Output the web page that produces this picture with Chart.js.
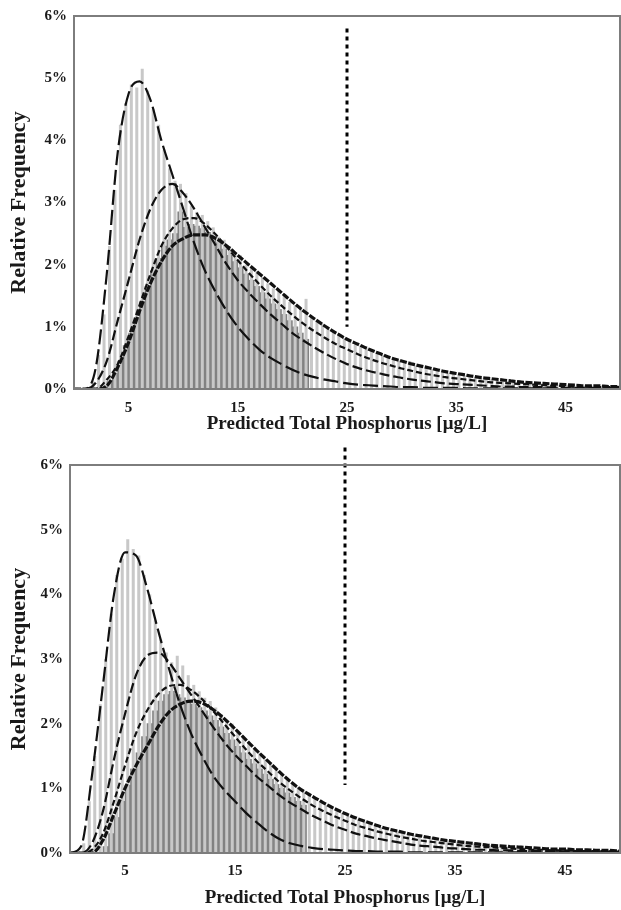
<!DOCTYPE html>
<html>
<head>
<meta charset="utf-8">
<script src="https://cdn.jsdelivr.net/npm/chart.js@4.4.0/dist/chart.umd.min.js"></script>
<style>
  html, body { margin: 0; padding: 0; background: #fff; }
  #wrap { position: relative; width: 621px; height: 910px; }
  canvas { position: absolute; left: 0; }
  #topChart { top: 0; }
  #bottomChart { top: 436px; }
</style>
</head>
<body>
<div id="wrap">
  <canvas id="topChart" width="621" height="436"></canvas>
  <canvas id="bottomChart" width="621" height="474"></canvas>
</div>
<script>
'use strict';

// histogram bins, 0.5 ug/L wide (centres)
const binCenters = [
    0.25, 0.75, 1.25, 1.75, 2.25, 2.75, 3.25, 3.75, 4.25, 4.75,
    5.25, 5.75, 6.25, 6.75, 7.25, 7.75, 8.25, 8.75, 9.25, 9.75,
    10.25, 10.75, 11.25, 11.75, 12.25, 12.75, 13.25, 13.75, 14.25, 14.75,
    15.25, 15.75, 16.25, 16.75, 17.25, 17.75, 18.25, 18.75, 19.25, 19.75,
    20.25, 20.75, 21.25, 21.75, 22.25, 22.75, 23.25, 23.75, 24.25, 24.75,
    25.25, 25.75, 26.25, 26.75, 27.25, 27.75, 28.25, 28.75, 29.25, 29.75,
    30.25, 30.75, 31.25, 31.75, 32.25, 32.75, 33.25, 33.75, 34.25, 34.75,
    35.25, 35.75, 36.25, 36.75, 37.25, 37.75, 38.25, 38.75, 39.25, 39.75,
    40.25, 40.75, 41.25, 41.75, 42.25, 42.75, 43.25, 43.75, 44.25, 44.75,
    45.25, 45.75, 46.25, 46.75, 47.25, 47.75, 48.25, 48.75, 49.25, 49.75
];
// x of the fitted curves
const curveX = [
    0, 1, 2, 3, 4, 5, 6, 7, 8, 9,
    10, 11, 12, 13, 14, 15, 16, 17, 18, 19,
    20, 21, 22, 23, 24, 25, 26, 27, 28, 29,
    30, 31, 32, 33, 34, 35, 36, 37, 38, 39,
    40, 41, 42, 43, 44, 45, 46, 47, 48, 49,
    50
];
const xTicks = [5, 15, 25, 35, 45];
const xLimit = 25;   // dotted reference line
const xTitle = 'Predicted Total Phosphorus [\u03bcg/L]';
const yTitle = 'Relative Frequency';

// ---- upper panel (values in %) ----
const topBarsLight = [
    0.02, 0.02, 0.03, 0.12, 0.55, 1.2, 2.3, 3.2, 4.25, 4.6,
    4.9, 4.85, 5.15, 4.8, 4.5, 4.25, 3.85, 3.55, 3.35, 3.3,
    3.15, 2.95, 2.85, 2.8, 2.7, 2.6, 2.45, 2.4, 2.3, 2.2,
    2.15, 2.0, 1.95, 1.9, 1.8, 1.7, 1.62, 1.6, 1.5, 1.4,
    1.35, 1.3, 1.45, 1.15, 1.1, 1.05, 0.97, 0.92, 0.88, 0.82,
    0.78, 0.74, 0.7, 0.66, 0.62, 0.58, 0.55, 0.52, 0.48, 0.46,
    0.43, 0.45, 0.38, 0.36, 0.34, 0.32, 0.3, 0.28, 0.26, 0.25,
    0.23, 0.22, 0.2, 0.19, 0.18, 0.17, 0.16, 0.15, 0.14, 0.13,
    0.12, 0.14, 0.11, 0.1, 0.1, 0.09, 0.08, 0.08, 0.07, 0.07,
    0.06, 0.06, 0.06, 0.05, 0.05, 0.05, 0.04, 0.04, 0.04, 0.04
];
const topBarsDark = [
    0, 0, 0, 0, 0, 0, 0.12, 0.25, 0.45, 0.7,
    0.9, 1.15, 1.4, 1.65, 1.9, 2.1, 2.3, 2.4, 2.5, 2.85,
    2.6, 2.65, 2.62, 2.58, 2.52, 2.45, 2.35, 2.25, 2.15, 2.05,
    1.95, 1.85, 1.75, 1.65, 1.55, 1.45, 1.37, 1.28, 1.2, 1.1,
    1.0, 0.9, 0.8, 0, 0, 0, 0, 0, 0, 0,
    0, 0, 0, 0, 0, 0, 0, 0, 0, 0,
    0, 0, 0, 0, 0, 0, 0, 0, 0, 0,
    0, 0, 0, 0, 0, 0, 0, 0, 0, 0,
    0, 0, 0, 0, 0, 0, 0, 0, 0, 0,
    0, 0, 0, 0, 0, 0, 0, 0, 0, 0
];
const topCurveA = [
    0, 0, 0.35, 1.85, 3.8, 4.75, 4.95, 4.65, 4.0, 3.45,
    2.9, 2.35, 1.9, 1.55, 1.25, 1.0, 0.8, 0.63, 0.5, 0.4,
    0.31, 0.24, 0.19, 0.15, 0.12, 0.09, 0.07, 0.06, 0.05, 0.04,
    0.03, 0.03, 0.02, 0.02, 0.02, 0.02, 0.01, 0.01, 0.01, 0.01,
    0.01, 0.01, 0.01, 0.01, 0.01, 0.01, 0.01, 0.01, 0.01, 0.01,
    0.01
];
const topCurveB = [
    0, 0, 0.1, 0.45, 1.1, 1.75, 2.4, 2.9, 3.2, 3.3,
    3.15, 2.9, 2.6, 2.3, 2.0, 1.75, 1.55, 1.37, 1.2, 1.05,
    0.9, 0.78, 0.67, 0.57, 0.48, 0.4, 0.34, 0.29, 0.25, 0.21,
    0.18, 0.15, 0.13, 0.11, 0.09, 0.08, 0.07, 0.06, 0.05, 0.04,
    0.04, 0.03, 0.03, 0.03, 0.02, 0.02, 0.02, 0.02, 0.02, 0.02,
    0.02
];
const topCurveC = [
    0, 0, 0, 0.15, 0.4, 0.85, 1.35, 1.85, 2.3, 2.58,
    2.73, 2.75, 2.65, 2.48, 2.28, 2.07, 1.87, 1.68, 1.5, 1.34,
    1.19, 1.05, 0.93, 0.82, 0.72, 0.64, 0.56, 0.49, 0.43, 0.38,
    0.33, 0.29, 0.25, 0.22, 0.19, 0.17, 0.15, 0.13, 0.11, 0.1,
    0.09, 0.08, 0.07, 0.06, 0.05, 0.05, 0.04, 0.04, 0.03, 0.03,
    0.03
];
const topCurveD = [
    0, 0, 0, 0.05, 0.35, 0.75, 1.25, 1.7, 2.05, 2.3,
    2.42, 2.48, 2.48, 2.42, 2.3, 2.15, 2.0, 1.85, 1.7, 1.55,
    1.4, 1.26, 1.13, 1.01, 0.9, 0.8, 0.72, 0.64, 0.57, 0.5,
    0.45, 0.4, 0.36, 0.32, 0.28, 0.25, 0.22, 0.19, 0.17, 0.15,
    0.13, 0.11, 0.1, 0.09, 0.08, 0.07, 0.06, 0.05, 0.05, 0.04,
    0.04
];
const topLimitSpan = [5.8, 1.0];

// ---- lower panel (values in %) ----
const botBarsLight = [
    0.02, 0.03, 0.15, 0.8, 1.5, 2.3, 3.0, 3.7, 4.3, 4.55,
    4.85, 4.7, 4.6, 4.3, 4.0, 3.6, 3.3, 3.1, 2.95, 3.05,
    2.9, 2.75, 2.6, 2.5, 2.4, 2.35, 2.25, 2.15, 2.05, 2.0,
    1.9, 1.8, 1.72, 1.62, 1.55, 1.45, 1.4, 1.3, 1.22, 1.15,
    1.08, 1.02, 0.95, 0.9, 0.84, 0.8, 0.74, 0.7, 0.66, 0.62,
    0.58, 0.55, 0.52, 0.49, 0.46, 0.43, 0.4, 0.38, 0.36, 0.34,
    0.32, 0.3, 0.28, 0.27, 0.25, 0.24, 0.22, 0.21, 0.2, 0.19,
    0.18, 0.17, 0.16, 0.15, 0.14, 0.13, 0.12, 0.12, 0.11, 0.1,
    0.1, 0.09, 0.09, 0.08, 0.08, 0.07, 0.07, 0.06, 0.06, 0.06,
    0.05, 0.05, 0.05, 0.04, 0.04, 0.04, 0.04, 0.03, 0.03, 0.03
];
const botBarsDark = [
    0, 0, 0, 0, 0, 0, 0.1, 0.3, 0.55, 0.8,
    1.05, 1.3, 1.55, 1.8, 2.0, 2.2, 2.35, 2.45, 2.5, 2.45,
    2.4, 2.35, 2.3, 2.25, 2.2, 2.12, 2.05, 1.95, 1.85, 1.75,
    1.65, 1.55, 1.45, 1.38, 1.3, 1.22, 1.14, 1.06, 1.0, 0.93,
    0.86, 0.8, 0.74, 0, 0, 0, 0, 0, 0, 0,
    0, 0, 0, 0, 0, 0, 0, 0, 0, 0,
    0, 0, 0, 0, 0, 0, 0, 0, 0, 0,
    0, 0, 0, 0, 0, 0, 0, 0, 0, 0,
    0, 0, 0, 0, 0, 0, 0, 0, 0, 0,
    0, 0, 0, 0, 0, 0, 0, 0, 0, 0
];
const botCurveA = [
    0, 0.1, 1.2, 2.6, 4.0, 4.65, 4.6, 4.1, 3.45, 2.85,
    2.3, 1.85, 1.5, 1.2, 0.98, 0.8, 0.62, 0.47, 0.33, 0.22,
    0.15, 0.11, 0.08, 0.06, 0.05, 0.04, 0.03, 0.03, 0.02, 0.02,
    0.02, 0.01, 0.01, 0.01, 0.01, 0.01, 0.01, 0.01, 0.01, 0.01,
    0.01, 0.01, 0.01, 0.01, 0.01, 0.01, 0.01, 0.01, 0.01, 0.01,
    0.01
];
const botCurveB = [
    0, 0, 0.15, 0.65, 1.45, 2.15, 2.75, 3.05, 3.1, 2.95,
    2.7, 2.45, 2.2, 1.95, 1.72, 1.52, 1.35, 1.18, 1.04, 0.9,
    0.78, 0.68, 0.58, 0.5, 0.42, 0.36, 0.3, 0.26, 0.22, 0.19,
    0.16, 0.13, 0.11, 0.1, 0.08, 0.07, 0.06, 0.05, 0.05, 0.04,
    0.04, 0.03, 0.03, 0.03, 0.03, 0.02, 0.02, 0.02, 0.02, 0.02,
    0.02
];
const botCurveC = [
    0, 0, 0.05, 0.3, 0.8, 1.35, 1.85, 2.2, 2.45, 2.58,
    2.6, 2.52, 2.38, 2.2, 2.0, 1.8, 1.6, 1.42, 1.26, 1.1,
    0.97, 0.85, 0.74, 0.65, 0.57, 0.5, 0.43, 0.38, 0.33, 0.29,
    0.25, 0.22, 0.19, 0.17, 0.15, 0.13, 0.11, 0.1, 0.09, 0.08,
    0.07, 0.06, 0.05, 0.05, 0.04, 0.04, 0.03, 0.03, 0.03, 0.03,
    0.03
];
const botCurveD = [
    0, 0, 0, 0.2, 0.6, 1.0, 1.35, 1.65, 1.95, 2.18,
    2.3, 2.35, 2.32, 2.22, 2.08, 1.92, 1.75, 1.58, 1.42, 1.26,
    1.11, 0.98, 0.88, 0.78, 0.69, 0.61, 0.54, 0.48, 0.42, 0.37,
    0.33, 0.29, 0.26, 0.23, 0.2, 0.18, 0.16, 0.14, 0.12, 0.11,
    0.1, 0.09, 0.08, 0.07, 0.06, 0.06, 0.05, 0.05, 0.04, 0.04,
    0.03
];
const botLimitSpan = [6.27, 1.05];

(function () {
    Chart.defaults.font.family = '"Liberation Serif", "Times New Roman", serif';
    Chart.defaults.font.weight = 'bold';
    Chart.defaults.color = '#1a1a1a';

    // grey frame round the plot area
    const plotBox = {
        id: 'plotBox',
        afterDatasetsDraw(chart) {
            const a = chart.chartArea;
            const ctx = chart.ctx;
            ctx.save();
            ctx.strokeStyle = '#7d7d7d';
            ctx.lineWidth = 2;
            ctx.strokeRect(a.left, a.top, a.right - a.left, a.bottom - a.top);
            ctx.restore();
        }
    };

    function pts(xs, ys) {
        return xs.map((x, i) => ({x: x, y: ys[i]}));
    }

    function curve(ys, dash, width) {
        return {
            type: 'line',
            order: 0,
            data: pts(curveX, ys),
            borderColor: '#111',
            borderWidth: width,
            borderDash: dash,
            pointRadius: 0,
            fill: false,
            cubicInterpolationMode: 'monotone'
        };
    }

    function makePanel(id, d, lay) {
        const config = {
            type: 'bar',
            data: {
                datasets: [
                    curve(d.a, [15, 5], 2.2),
                    curve(d.b, [10, 4], 2.2),
                    curve(d.c, [6, 3], 2.2),
                    curve(d.d, [7, 1.5], 3.2),
                    {
                        type: 'line',
                        order: 0,
                        clip: false,
                        data: [{x: xLimit, y: d.limit[0]}, {x: xLimit, y: d.limit[1]}],
                        borderColor: '#000',
                        borderWidth: 3,
                        borderDash: [4, 4],
                        pointRadius: 0
                    },
                    {
                        type: 'bar',
                        order: 1,
                        data: pts(binCenters, d.light),
                        backgroundColor: '#c8c8c8',
                        barPercentage: 0.55,
                        categoryPercentage: 1,
                        grouped: false
                    },
                    {
                        type: 'bar',
                        order: 2,
                        data: pts(binCenters, d.dark),
                        backgroundColor: '#828282',
                        barPercentage: 1,
                        categoryPercentage: 1,
                        grouped: false
                    }
                ]
            },
            options: {
                responsive: false,
                animation: false,
                devicePixelRatio: 1,
                layout: {padding: {top: lay.top, right: 1, left: 0, bottom: 0}},
                plugins: {legend: {display: false}, tooltip: {enabled: false}},
                scales: {
                    x: {
                        type: 'linear',
                        min: 0,
                        max: 50,
                        offset: false,
                        grid: {display: false, drawTicks: false},
                        border: {display: false},
                        afterBuildTicks: s => { s.ticks = xTicks.map(v => ({value: v})); },
                        afterFit: s => { s.height = lay.xh; },
                        ticks: {font: {size: 15}, padding: lay.xpad, maxRotation: 0},
                        title: {display: true, text: xTitle, font: {size: 19}, padding: {top: 0, bottom: 1}}
                    },
                    y: {
                        min: 0,
                        max: 6,
                        grid: {display: false, drawTicks: false},
                        border: {display: false},
                        afterFit: s => { s.width = lay.yw; },
                        ticks: {stepSize: 1, font: {size: 15}, padding: 7, callback: v => v + '%'},
                        title: {display: true, text: yTitle, font: {size: 22}, padding: {top: 6, bottom: 0}}
                    }
                }
            },
            plugins: [plotBox]
        };
        return new Chart(document.getElementById(id), config);
    }

    makePanel('topChart', {
        a: topCurveA, b: topCurveB, c: topCurveC, d: topCurveD,
        light: topBarsLight, dark: topBarsDark, limit: topLimitSpan
    }, {top: 13, xh: 47, yw: 74, xpad: 10});

    makePanel('bottomChart', {
        a: botCurveA, b: botCurveB, c: botCurveC, d: botCurveD,
        light: botBarsLight, dark: botBarsDark, limit: botLimitSpan
    }, {top: 29, xh: 57, yw: 70, xpad: 9});
})();
</script>
</body>
</html>
